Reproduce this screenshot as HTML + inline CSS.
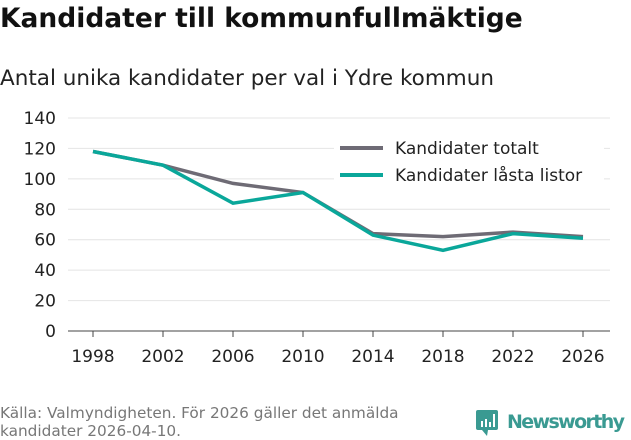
<!DOCTYPE html>
<html><head><meta charset="utf-8"><style>
body{margin:0;width:631px;height:439px;background:#fff;font-family:"DejaVu Sans","Liberation Sans",sans-serif;overflow:hidden;position:relative}
#title{position:absolute;left:0;top:3px;font-size:26.5px;font-weight:bold;color:#111;margin:0;white-space:nowrap}
#sub{position:absolute;left:0;top:66px;font-size:21.5px;color:#222;white-space:nowrap}
#src{position:absolute;left:0;top:404px;font-size:15.3px;color:#777;line-height:18px;white-space:nowrap}
#logo{position:absolute;left:476px;top:409px}
</style></head><body>
<h1 id="title">Kandidater till kommunfullmäktige</h1>
<div id="sub">Antal unika kandidater per val i Ydre kommun</div>
<svg id="chart" width="631" height="439" style="position:absolute;left:0;top:0"></svg>
<div id="src">Källa: Valmyndigheten. För 2026 gäller det anmälda<br>kandidater 2026-04-10.</div>
<svg id="logo" width="155" height="30">
<rect x="0" y="1" width="22" height="20" rx="2" fill="#3a9a92"/><polygon points="6,21 11,27 12,21" fill="#3a9a92"/>
<rect x="5" y="12" width="2" height="6" fill="#fff"/><rect x="9" y="10" width="2" height="8" fill="#fff"/><rect x="13" y="13" width="2" height="5" fill="#fff"/><rect x="17" y="5" width="2" height="13" fill="#fff"/>
<text x="31" y="19" font-size="19" font-weight="bold" font-family="DejaVu Sans, sans-serif" fill="#3a9a92" textLength="118">Newsworthy</text>
</svg>
<script>
const years=[1998,2002,2006,2010,2014,2018,2022,2026];
const totalt=[118,109,97,91,64,62,65,62];
const lasta=[118,109,84,91,63,53,64,61];
const yTicks=[0,20,40,60,80,100,120,140];
const svg=document.getElementById('chart');const NS='http://www.w3.org/2000/svg';
const x=v=>93+(v-1998)/28*490, y=v=>331-v/140*213;
function el(t,a){const e=document.createElementNS(NS,t);for(const k in a)e.setAttribute(k,a[k]);svg.appendChild(e);return e;}
yTicks.forEach(t=>{const g=el('line',{x1:68,x2:610,y1:y(t),y2:y(t),stroke:t?'#e4e4e4':'#444','stroke-width':1});


const l=el('text',{x:56,y:y(t)+6,'text-anchor':'end','font-size':17,fill:'#222'});l.textContent=t;

});
years.forEach(v=>{const tk=el('line',{x1:x(v),x2:x(v),y1:331,y2:337,stroke:'#444'});


const l=el('text',{x:x(v),y:362,'text-anchor':'middle','font-size':17,fill:'#222'});l.textContent=v;

});
function line(d,c,n){const p=el('polyline',{points:d.map((v,i)=>x(years[i])+','+y(v)).join(' '),fill:'none',stroke:c,'stroke-width':3.5});

}
line(totalt,'#6e6b75','series-totalt');line(lasta,'#0aa79a','series-lasta-listor');
el('rect',{x:334,y:131,width:270,height:62,fill:'#fff'});
[['Kandidater totalt','#6e6b75',148],['Kandidater låsta listor','#0aa79a',175]].forEach(([t,c,yy])=>{
const g=el('line',{x1:340,x2:383,y1:yy,y2:yy,stroke:c,'stroke-width':4});


const l=el('text',{x:395,y:yy+6,'font-size':17,fill:'#222'});l.textContent=t;

});
</script>
</body></html>
